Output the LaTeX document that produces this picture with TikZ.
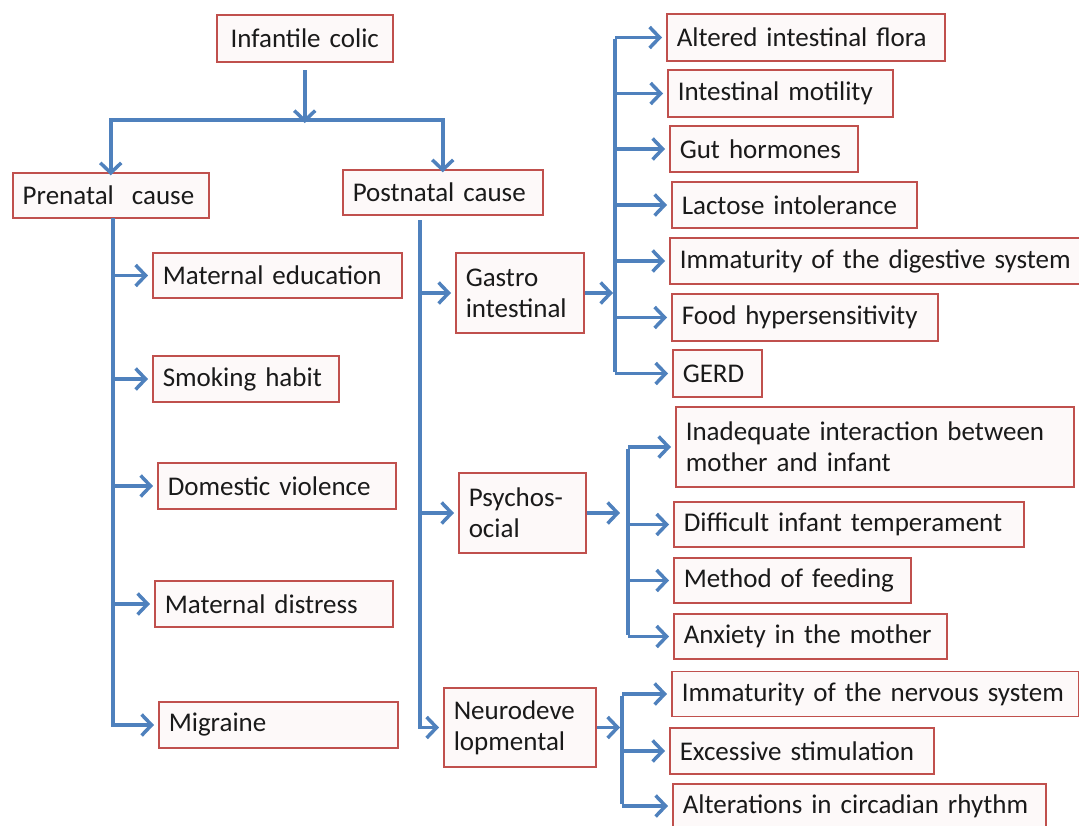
\documentclass[tikz,border=0pt]{standalone}
\usepackage{fontspec}
\setmainfont{Carlito}
\usetikzlibrary{arrows.meta}
\definecolor{arrblue}{HTML}{4F81BD}
\definecolor{boxred}{HTML}{C0504D}
\definecolor{boxfill}{HTML}{FDF9F9}
\definecolor{txt}{HTML}{1A1A1A}
\newcommand{\boxfont}{\fontsize{27}{31}\selectfont\hyphenpenalty=10000\exhyphenpenalty=10000\relax}
\tikzset{
  bx/.style={draw=boxred, fill=boxfill, line width=1.5pt, anchor=west,
    inner xsep=10pt, inner ysep=2pt, text width=#1-20pt, align=left,
    minimum height=45pt, font=\boxfont, text=txt},
  conn/.style={draw=arrblue, line width=3.5pt},
  arr/.style={conn, -{Straight Barb[length=10pt,width=21pt,line width=3.5pt]}}
}
\begin{document}
\begin{tikzpicture}[x=1pt,y=-1pt]
\useasboundingbox (0,0) rectangle (1079,825);
% level 0/1
\node[bx=176pt, align=center, minimum height=47pt] (ic) at (216,38.5) {Infantile colic};
\node[bx=196pt] (pre) at (12,195.5) {Prenatal~ cause};
\node[bx=200pt] (post) at (342,192.5) {Postnatal cause};
% prenatal children
\node[bx=249pt] (me) at (152,275.5) {Maternal education};
\node[bx=186pt, minimum height=46pt] (sh) at (152,379) {Smoking habit};
\node[bx=238pt, minimum height=46pt] (dv) at (157,486) {Domestic violence};
\node[bx=238pt, minimum height=46pt] (md) at (154,604) {Maternal distress};
\node[bx=239pt, minimum height=46pt] (mig) at (158,725) {Migraine};
% postnatal children
\node[bx=128pt, minimum height=80pt] (gi) at (455,293) {Gastro\\intestinal};
\node[bx=127pt, minimum height=80pt] (ps) at (458,513) {Psychos-\\ocial};
\node[bx=152pt, minimum height=79pt] (nd) at (443,727.5) {Neurodeve\\lopmental};
% gastro children
\node[bx=278pt, minimum height=47pt] (aif) at (666,37.5) {Altered intestinal flora};
\node[bx=225pt, minimum height=47pt] (im) at (667,93.5) {Intestinal motility};
\node[bx=188pt, minimum height=46pt] (gh) at (669,149) {Gut hormones};
\node[bx=245pt, minimum height=46pt] (li) at (671,205) {Lactose intolerance};
\node[bx=418pt, minimum height=46pt] (ids) at (669,261) {Immaturity of the digestive system};
\node[bx=266pt, minimum height=47pt] (fh) at (671,317.5) {Food hypersensitivity};
\node[bx=89pt, minimum height=47pt] (gerd) at (672,373.5) {GERD};
% psychosocial children
\node[bx=398pt, minimum height=80pt] (ii) at (675,447) {Inadequate interaction between\\mother and infant};
\node[bx=350pt] (dit) at (673,524.5) {Difficult infant temperament};
\node[bx=237pt] (mof) at (673,580.5) {Method of feeding};
\node[bx=273pt] (am) at (673,636.5) {Anxiety in the mother};
% neuro children
\node[bx=407pt] (ins) at (671,694) {Immaturity of the nervous system};
\node[bx=264pt, minimum height=46pt] (es) at (669,751) {Excessive stimulation};
\node[bx=373pt, minimum height=44pt] (acr) at (672,806) {Alterations in circadian rhythm};
% top connectors
\coordinate (top1) at (ic.south |- 0,70);
\coordinate (bar) at (ic.south |- 0,120);
\coordinate (barL) at (pre.north |- 0,120);
\coordinate (barR) at (post.north |- 0,120);
\draw[arr] (top1) -- ([yshift=-3pt]bar);
\draw[conn] ([xshift=-1.75pt]barL) -- ([xshift=1.75pt]barR);
\draw[arr] (barL) -- ([yshift=-3pt]pre.north);
\draw[arr] (barR) -- ([yshift=-3pt]post.north);
% prenatal trunk
\coordinate (pt0) at (113,218);
\coordinate (pt1) at (113,727);
\draw[conn] (pt0) -- (pt1);
\foreach \n in {me,sh,dv,md,mig}{
  \draw[arr] (pt0 |- \n.west) -- ([xshift=-4pt]\n.west);
}
% postnatal trunk
\coordinate (qt0) at (420,220);
\coordinate (qt1) at (420,729);
\draw[conn] (qt0) -- (qt1);
\foreach \n in {gi,ps,nd}{
  \draw[arr] (qt0 |- \n.west) -- ([xshift=-4pt]\n.west);
}
% gastro
\coordinate (gt0) at (615,37.5);
\coordinate (gt1) at (615,373.5);
\draw[arr] (gi.east) -- ([xshift=-2pt]gt0 |- gi.east);
\draw[conn] ([yshift=-1.75pt]gt0) -- ([yshift=1.75pt]gt1);
\foreach \n in {aif,im,gh,li,ids,fh,gerd}{
  \draw[arr] (gt0 |- \n.west) -- ([xshift=-4pt]\n.west);
}
% psychosocial
\coordinate (st0) at (628,447);
\coordinate (st1) at (628,636.5);
\draw[arr] (ps.east) -- ([xshift=-8pt]st0 |- ps.east);
\draw[conn] ([yshift=-1.75pt]st0) -- ([yshift=1.75pt]st1);
\foreach \n in {ii,dit,mof,am}{
  \draw[arr] (st0 |- \n.west) -- ([xshift=-4pt]\n.west);
}
% neuro
\coordinate (nt0) at (622,694);
\coordinate (nt1) at (622,806);
\draw[arr] (nd.east) -- ([xshift=-2pt]nt0 |- nd.east);
\draw[conn] ([yshift=-1.75pt]nt0) -- ([yshift=1.75pt]nt1);
\foreach \n in {ins,es,acr}{
  \draw[arr] (nt0 |- \n.west) -- ([xshift=-4pt]\n.west);
}
\end{tikzpicture}
\end{document}
